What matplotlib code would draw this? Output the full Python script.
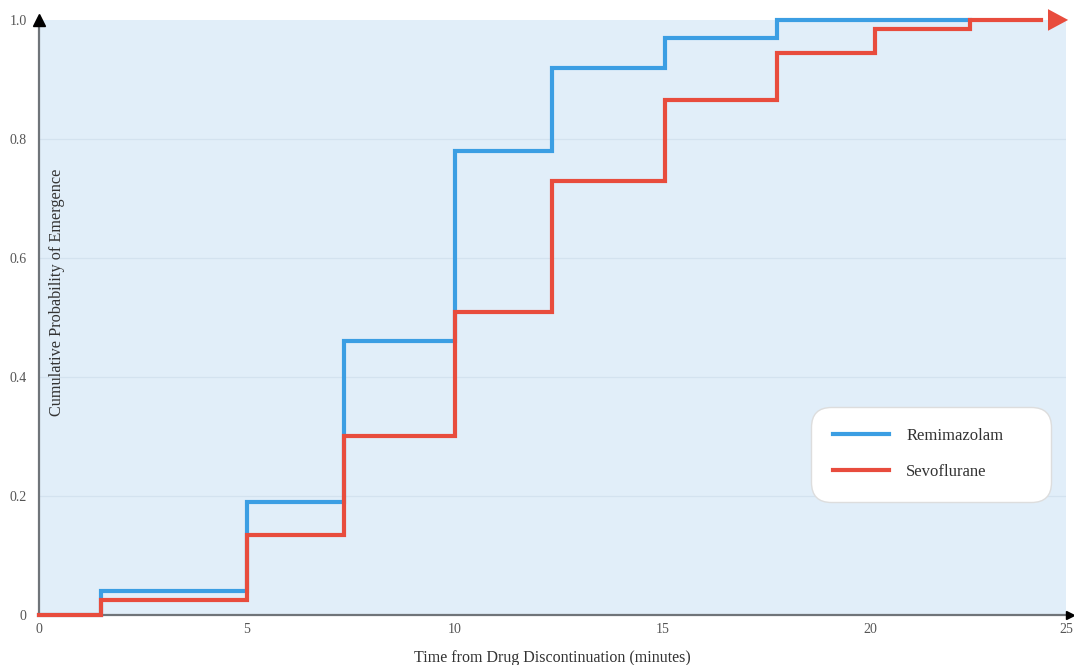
import matplotlib
matplotlib.use("Agg")
import matplotlib.pyplot as plt

plt.rcParams['font.family'] = ['Liberation Serif', 'DejaVu Serif']

# Step change times (minutes) and cumulative probabilities after each step
remi_times = [0, 1.5, 5, 7.33, 10, 12.33, 15.05, 17.75, 22.4]
remi_prob = [0, 0.04, 0.19, 0.46, 0.78, 0.92, 0.97, 1.0, 1.0]

sevo_times = [0, 1.5, 5, 7.33, 10, 12.33, 15.05, 17.75, 20.1, 22.4, 24.1]
sevo_prob = [0, 0.026, 0.135, 0.30, 0.51, 0.73, 0.865, 0.945, 0.985, 1.0, 1.0]

x_ticks = [0, 5, 10, 15, 20, 24.7]
x_tick_labels = ['0', '5', '10', '15', '20', '25']
y_ticks = [0, 0.2, 0.4, 0.6, 0.8, 1.0]
y_tick_labels = ['0', '0.2', '0.4', '0.6', '0.8', '1.0']

BLUE = '#3b9ee3'
RED = '#e84c3d'
BG = '#e1eef9'

fig = plt.figure(figsize=(10.74, 6.65), dpi=100)
ax = fig.add_axes([0.0363, 0.0752, 0.9563, 0.8948])
ax.set_facecolor(BG)
ax.set_xlim(0, 24.7)
ax.set_ylim(0, 1.0)

for y in y_ticks[1:-1]:
    ax.axhline(y, color='#d3e2ef', lw=0.9, zorder=1)

ax.step(remi_times, remi_prob, where='post', color=BLUE, lw=3.0,
        label='Remimazolam', zorder=3, solid_joinstyle='miter', clip_on=False)
ax.step(sevo_times, sevo_prob, where='post', color=RED, lw=3.0,
        label='Sevoflurane', zorder=4, solid_joinstyle='miter', clip_on=False)

# arrowhead at the end of the sevoflurane curve
ax.annotate('', xy=(sevo_times[-1] + 0.65, sevo_prob[-1]),
            xytext=(sevo_times[-1] - 0.2, sevo_prob[-1]),
            arrowprops=dict(arrowstyle='-|>,head_length=1.45,head_width=0.78',
                            color=RED, lw=0, shrinkA=0, shrinkB=0),
            annotation_clip=False, zorder=5)

for s in ['top', 'right']:
    ax.spines[s].set_visible(False)
for s in ['left', 'bottom']:
    ax.spines[s].set_color('#6f7479')
    ax.spines[s].set_linewidth(1.6)

# axis arrowheads
ax.plot(0, 1.0, marker='^', color='black', markersize=9, clip_on=False,
        transform=ax.transAxes, zorder=6)
ax.plot(1.004, 0, marker='>', color='black', markersize=6, clip_on=False,
        transform=ax.transAxes, zorder=6)

ax.set_xticks(x_ticks)
ax.set_xticklabels(x_tick_labels)
ax.set_yticks(y_ticks)
ax.set_yticklabels(y_tick_labels)
ax.tick_params(length=0, labelsize=10, colors='#555555', pad=6)
ax.tick_params(axis='y', pad=9)

ax.set_xlabel('Time from Drug Discontinuation (minutes)', fontsize=11.5,
              color='#333333', labelpad=10)
ax.text(0.0175, 0.543, 'Cumulative Probability of Emergence', rotation=90,
        transform=ax.transAxes, ha='center', va='center', fontsize=11.7,
        color='#333333')

leg = ax.legend(loc='lower left', bbox_to_anchor=(0.7517, 0.19, 0.2337, 0.1),
                mode='expand', fontsize=12,
                frameon=True, fancybox=True, borderpad=1.3, labelspacing=1.2,
                handlelength=3.4, handletextpad=1.0, borderaxespad=0)
leg.get_frame().set_facecolor('white')
leg.get_frame().set_edgecolor('#dddddd')
leg.get_frame().set_alpha(1)
leg.get_frame().set_boxstyle('round,pad=0,rounding_size=1.2')
for line in leg.get_lines():
    line.set_linewidth(3)
for t in leg.get_texts():
    t.set_color('#333333')

fig.savefig('out.png', dpi=100)
